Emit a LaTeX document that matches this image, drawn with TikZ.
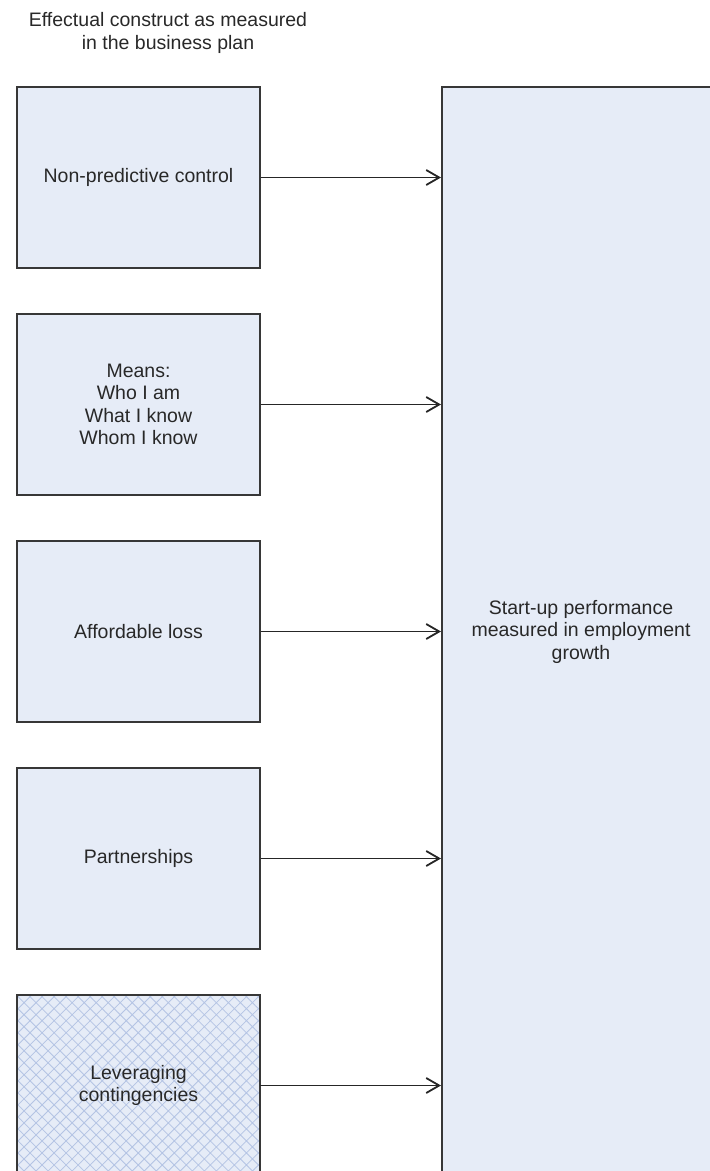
\documentclass[tikz,border=0pt]{standalone}
\usepackage{fontspec}
\setmainfont{Liberation Sans}
\usetikzlibrary{arrows.meta, patterns.meta}
\definecolor{kfill}{RGB}{230,236,247}
\definecolor{khatch}{RGB}{180,196,228}
\definecolor{kline}{RGB}{55,55,55}
\definecolor{ktext}{RGB}{40,40,40}
\tikzset{
  box/.style={draw=kline, line width=2pt, fill=kfill, align=center, minimum width=243pt, minimum height=181pt, inner sep=0pt, text=ktext, font=\fontsize{19.5}{22.5}\selectfont},
  kfactor/.style={box},
  kcontingency/.style={box, preaction={fill=kfill}, pattern={Hatch[angle=45, distance=8.5pt, line width=0.8pt]}, pattern color=khatch},
  ktarget/.style={box, minimum width=278pt, minimum height=1089pt},
  ktitle/.style={align=center, text=ktext, font=\fontsize{19.5}{22.5}\selectfont},
  flow/.style={-{Straight Barb[length=13pt, width=15pt]}, line width=1.8pt, draw=black!85},
}

\begin{document}
\begin{tikzpicture}[x=1pt, y=-1pt]
    \clip (0,0) rectangle (710,1171);
    \node[ktitle] (title) at (168,33) {Effectual construct as measured\\in the business plan};
    \node[ktarget] (perf) at (581,631.5) {Start-up performance\\measured in employment\\growth};
    \node[kfactor] (npc) at (138.5,177.5) {Non-predictive control};
    \node[kfactor] (means) at (138.5,404.5) {Means:\\Who I am\\What I know\\Whom I know};
    \node[kfactor] (loss) at (138.5,631.5) {Affordable loss};
    \node[kfactor] (part) at (138.5,858.5) {Partnerships};
    \node[kcontingency] (lev) at (138.5,1085.5) {Leveraging\\contingencies};
    \draw[flow] (npc.east) -- (npc.east -| perf.west);
    \draw[flow] (means.east) -- (means.east -| perf.west);
    \draw[flow] (loss.east) -- (loss.east -| perf.west);
    \draw[flow] (part.east) -- (part.east -| perf.west);
    \draw[flow] (lev.east) -- (lev.east -| perf.west);
  \end{tikzpicture}
\end{document}
